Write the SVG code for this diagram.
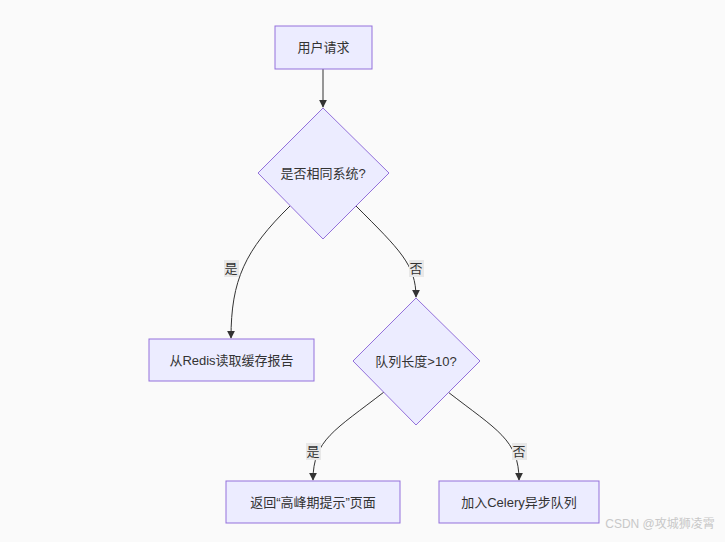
<svg xmlns="http://www.w3.org/2000/svg" width="725" height="542" viewBox="0 0 725 542">
<style>
.n{fill:#ececff;stroke:#9370db;stroke-width:1}
.t{font-family:"Liberation Sans","Noto Sans CJK SC",sans-serif;font-size:13px;fill:#333;text-anchor:middle;dominant-baseline:central}
.e{fill:none;stroke:#333;stroke-width:1}
.lb{fill:#e8e8e8}
</style>
<defs><marker id="a" viewBox="0 0 10 10" refX="9" refY="5" markerWidth="8" markerHeight="8" orient="auto"><path d="M0,0L10,5L0,10z" fill="#333"/></marker></defs>
<rect width="725" height="542" fill="#fafafa"/>
<g id="edges">
<path class="e" d="M323,69V107" marker-end="url(#a)"/>
<path class="e" d="M290,206C245,250 231,280 231,338" marker-end="url(#a)"/>
<path class="e" d="M356,206C400,250 416,265 416,297" marker-end="url(#a)"/>
<path class="e" d="M384,392C335,430 313,440 313,480" marker-end="url(#a)"/>
<path class="e" d="M448,392C497,430 519,440 519,480" marker-end="url(#a)"/>
<rect class="lb" x="224" y="260" width="15" height="17"/><text class="t" x="231" y="268">是</text>
<rect class="lb" x="409" y="260" width="15" height="17"/><text class="t" x="416" y="268">否</text>
<rect class="lb" x="306" y="443" width="15" height="17"/><text class="t" x="313" y="451">是</text>
<rect class="lb" x="512" y="443" width="15" height="17"/><text class="t" x="519" y="451">否</text>
</g>
<g id="n1"><rect class="n" x="275" y="26" width="97" height="43"/><text class="t" x="323.5" y="47.5">用户请求</text></g>
<g id="n2"><polygon class="n" points="323,108 389,173 323,239 258,173"/><text class="t" x="323" y="173">是否相同系统?</text></g>
<g id="n3"><rect class="n" x="149" y="339" width="165" height="42"/><text class="t" x="231.5" y="360">从Redis读取缓存报告</text></g>
<g id="n4"><polygon class="n" points="416,298 480,361 416,425 353,361"/><text class="t" x="416" y="361">队列长度&gt;10?</text></g>
<g id="n5"><rect class="n" x="226" y="481" width="174" height="42"/><text class="t" x="313" y="502">返回“高峰期提示”页面</text></g>
<g id="n6"><rect class="n" x="439" y="481" width="160" height="42"/><text class="t" x="519" y="502">加入Celery异步队列</text></g>
<text x="660" y="528" style="font-family:'Liberation Sans','Noto Sans CJK SC',sans-serif;font-size:12px;fill:#c8c8c8;text-anchor:middle">CSDN @攻城狮凌霄</text>
</svg>
